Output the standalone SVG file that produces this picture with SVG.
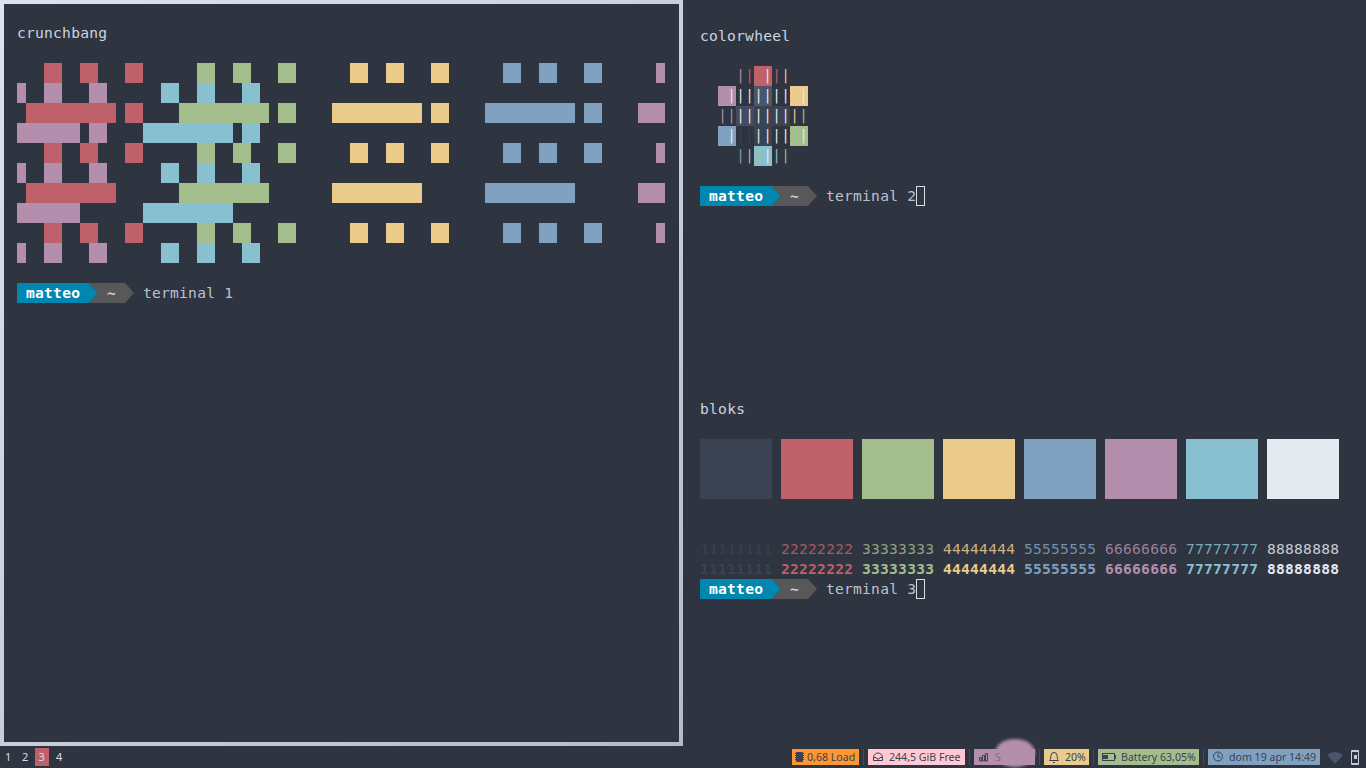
<svg xmlns="http://www.w3.org/2000/svg" width="1366" height="768" viewBox="0 0 1366 768">
<style>
text{white-space:pre}
.m{font-family:"DejaVu Sans Mono","Liberation Mono",monospace;font-size:14.6px;fill:#cfd5e0}
.bold{font-weight:700}
.s{font-family:"Noto Sans","Open Sans",sans-serif;font-size:10.6px;fill:#3b4252}
.w{font-family:"Noto Sans","Open Sans",sans-serif;font-size:11px;fill:#d8dee9}
.r{fill:#bf616a}.g{fill:#a3be8c}.y{fill:#ebcb8b}.b{fill:#81a1c1}.p{fill:#b48ead}.c{fill:#88c0d0}.e{fill:#e5e9f0}.k{fill:#3b4252}
.seg1{fill:#0087af}.seg2{fill:#585858}
.name{fill:#ffffff;font-weight:700}
.tilde{fill:#d0d0d0;font-weight:700}
.cur{fill:none;stroke:#d8dee9;stroke-width:1}
.sep{stroke:#434c5e;stroke-width:1}
.ico{fill:none;stroke:#3b4252;stroke-width:1}
.bar{font-family:"DejaVu Sans Mono",monospace;font-size:13.5px;text-anchor:middle}
</style>
<defs>
<linearGradient id="border" gradientUnits="userSpaceOnUse" x1="0" y1="0" x2="683" y2="746">
<stop offset="0" stop-color="#dde3ee"/><stop offset="1" stop-color="#b4bccb"/>
</linearGradient>
<filter id="blur" x="-20%" y="-20%" width="140%" height="140%"><feGaussianBlur stdDeviation="1.5"/></filter>
<g id="prompt">
<path class="seg1" d="M0 0H72L81 10L72 20H0Z"/>
<path class="seg2" d="M72 0H108L117 10L108 20H72L81 10Z"/>
<text class="m name" x="9" y="15" textLength="54">matteo</text>
<text class="m tilde" x="90" y="15">~</text>
</g>
</defs>
<rect width="1366" height="768" fill="#2e3440"/>

<g id="terminal-1">
<rect x="2" y="2" width="679" height="742" fill="#2e3440" stroke="url(#border)" stroke-width="4"/>
<text class="m" x="17" y="38" textLength="90">crunchbang</text>
<g id="crunchbang-blocks">
<path class="r" d="M44 63h18v20h-18zM80 63h18v20h-18zM125 63h18v20h-18zM26 103h90v20h-90zM125 103h18v20h-18zM44 143h18v20h-18zM80 143h18v20h-18zM125 143h18v20h-18zM26 183h90v20h-90zM44 223h18v20h-18zM80 223h18v20h-18zM125 223h18v20h-18z"/>
<path class="g" d="M197 63h18v20h-18zM233 63h18v20h-18zM278 63h18v20h-18zM179 103h90v20h-90zM278 103h18v20h-18zM197 143h18v20h-18zM233 143h18v20h-18zM278 143h18v20h-18zM179 183h90v20h-90zM197 223h18v20h-18zM233 223h18v20h-18zM278 223h18v20h-18z"/>
<path class="y" d="M350 63h18v20h-18zM386 63h18v20h-18zM431 63h18v20h-18zM332 103h90v20h-90zM431 103h18v20h-18zM350 143h18v20h-18zM386 143h18v20h-18zM431 143h18v20h-18zM332 183h90v20h-90zM350 223h18v20h-18zM386 223h18v20h-18zM431 223h18v20h-18z"/>
<path class="b" d="M503 63h18v20h-18zM539 63h18v20h-18zM584 63h18v20h-18zM485 103h90v20h-90zM584 103h18v20h-18zM503 143h18v20h-18zM539 143h18v20h-18zM584 143h18v20h-18zM485 183h90v20h-90zM503 223h18v20h-18zM539 223h18v20h-18zM584 223h18v20h-18z"/>
<path class="p" d="M656 63h9v20h-9zM638 103h27v20h-27zM656 143h9v20h-9zM638 183h27v20h-27zM656 223h9v20h-9zM17 83h9v20h-9zM44 83h18v20h-18zM89 83h18v20h-18zM17 123h63v20h-63zM89 123h18v20h-18zM17 163h9v20h-9zM44 163h18v20h-18zM89 163h18v20h-18zM17 203h63v20h-63zM17 243h9v20h-9zM44 243h18v20h-18zM89 243h18v20h-18z"/>
<path class="c" d="M161 83h18v20h-18zM197 83h18v20h-18zM242 83h18v20h-18zM143 123h90v20h-90zM242 123h18v20h-18zM161 163h18v20h-18zM197 163h18v20h-18zM242 163h18v20h-18zM143 203h90v20h-90zM161 243h18v20h-18zM197 243h18v20h-18zM242 243h18v20h-18z"/>
</g>
<use href="#prompt" x="17" y="283"/>
<text class="m" x="143" y="298" textLength="90" fill-opacity="0.9">terminal 1</text>
</g>

<g id="terminal-2">
<text class="m" x="700" y="41" textLength="90">colorwheel</text>
<g id="colorwheel">
<rect class="r" x="754" y="66" width="18" height="20"/>
<rect class="p" x="718" y="86" width="18" height="20"/>
<rect x="754" y="86" width="18" height="20" fill="#4c566a"/>
<rect class="y" x="790" y="86" width="18" height="20"/>
<rect x="736" y="106" width="18" height="20" fill="#434c5e"/>
<rect x="754" y="106" width="18" height="20" fill="#3b4252"/>
<rect x="772" y="106" width="18" height="20" fill="#3b4252"/>
<rect class="b" x="718" y="126" width="18" height="20"/>
<rect x="754" y="126" width="18" height="20" fill="#3b4252"/>
<rect class="g" x="790" y="126" width="18" height="20"/>
<rect class="c" x="754" y="146" width="18" height="20"/>
<text class="bar p" x="740.500" y="79.500">|</text>
<text class="bar r" x="749.500" y="79.500">|</text>
<text class="bar e" x="767.500" y="79.500">|</text>
<text class="bar r" x="776.500" y="79.500">|</text>
<text class="bar y" x="785.500" y="79.500">|</text>
<text class="bar e" x="731.500" y="99.500">|</text>
<text class="bar e" x="740.500" y="99.500">|</text>
<text class="bar e" x="749.500" y="99.500">|</text>
<text class="bar e" x="758.500" y="99.500">|</text>
<text class="bar e" x="767.500" y="99.500">|</text>
<text class="bar e" x="776.500" y="99.500">|</text>
<text class="bar e" x="785.500" y="99.500">|</text>
<text class="bar e" x="803.500" y="99.500">|</text>
<text class="bar p" x="722.500" y="119.500">|</text>
<text class="bar b" x="731.500" y="119.500">|</text>
<text class="bar e" x="740.500" y="119.500">|</text>
<text class="bar e" x="749.500" y="119.500">|</text>
<text class="bar e" x="758.500" y="119.500">|</text>
<text class="bar e" x="767.500" y="119.500">|</text>
<text class="bar e" x="776.500" y="119.500">|</text>
<text class="bar e" x="785.500" y="119.500">|</text>
<text class="bar y" x="794.500" y="119.500">|</text>
<text class="bar g" x="803.500" y="119.500">|</text>
<text class="bar e" x="731.500" y="139.500">|</text>
<text class="bar k" x="740.500" y="139.500">|</text>
<text class="bar k" x="749.500" y="139.500">|</text>
<text class="bar e" x="758.500" y="139.500">|</text>
<text class="bar e" x="767.500" y="139.500">|</text>
<text class="bar e" x="776.500" y="139.500">|</text>
<text class="bar e" x="785.500" y="139.500">|</text>
<text class="bar e" x="803.500" y="139.500">|</text>
<text class="bar b" x="740.500" y="159.500">|</text>
<text class="bar c" x="749.500" y="159.500">|</text>
<text class="bar g" x="758.500" y="159.500">|</text>
<text class="bar e" x="767.500" y="159.500">|</text>
<text class="bar c" x="776.500" y="159.500">|</text>
<text class="bar g" x="785.500" y="159.500">|</text>
</g>
<use href="#prompt" x="700" y="186"/>
<text class="m" x="826" y="201" textLength="90" fill-opacity="0.9">terminal 2</text>
<rect class="cur" x="916.500" y="186.500" width="8" height="19"/>
</g>

<g id="terminal-3">
<text class="m" x="700" y="414" textLength="45">bloks</text>
<g id="bloks">
<rect class="k" x="700" y="439" width="72" height="60"/>
<rect class="r" x="781" y="439" width="72" height="60"/>
<rect class="g" x="862" y="439" width="72" height="60"/>
<rect class="y" x="943" y="439" width="72" height="60"/>
<rect class="b" x="1024" y="439" width="72" height="60"/>
<rect class="p" x="1105" y="439" width="72" height="60"/>
<rect class="c" x="1186" y="439" width="72" height="60"/>
<rect class="e" x="1267" y="439" width="72" height="60"/>
</g>
<g id="digits">
<g fill-opacity="0.85">
<text class="m" style="fill:#3b4252" x="700" y="554" textLength="72">11111111</text>
<text class="m" style="fill:#bf616a" x="781" y="554" textLength="72">22222222</text>
<text class="m" style="fill:#a3be8c" x="862" y="554" textLength="72">33333333</text>
<text class="m" style="fill:#ebcb8b" x="943" y="554" textLength="72">44444444</text>
<text class="m" style="fill:#81a1c1" x="1024" y="554" textLength="72">55555555</text>
<text class="m" style="fill:#b48ead" x="1105" y="554" textLength="72">66666666</text>
<text class="m" style="fill:#88c0d0" x="1186" y="554" textLength="72">77777777</text>
<text class="m" style="fill:#e5e9f0" x="1267" y="554" textLength="72">88888888</text>
</g>
<text class="m bold" style="fill:#3b4252" x="700" y="574" textLength="72">11111111</text>
<text class="m bold" style="fill:#bf616a" x="781" y="574" textLength="72">22222222</text>
<text class="m bold" style="fill:#a3be8c" x="862" y="574" textLength="72">33333333</text>
<text class="m bold" style="fill:#ebcb8b" x="943" y="574" textLength="72">44444444</text>
<text class="m bold" style="fill:#81a1c1" x="1024" y="574" textLength="72">55555555</text>
<text class="m bold" style="fill:#b48ead" x="1105" y="574" textLength="72">66666666</text>
<text class="m bold" style="fill:#88c0d0" x="1186" y="574" textLength="72">77777777</text>
<text class="m bold" style="fill:#e5e9f0" x="1267" y="574" textLength="72">88888888</text>
</g>
<use href="#prompt" x="700" y="579"/>
<text class="m" x="826" y="594" textLength="90" fill-opacity="0.9">terminal 3</text>
<rect class="cur" x="916.500" y="579.500" width="8" height="19"/>
</g>

<g id="workspaces">
<rect class="r" x="35" y="748" width="14" height="18"/>
<text class="w" x="5" y="761">1</text>
<text class="w" x="22" y="761">2</text>
<text class="w" x="38.500" y="761">3</text>
<text class="w" x="56" y="761">4</text>
</g>

<g id="status-bar">
<g id="load">
<rect x="792" y="749" width="67" height="16" fill="#fd9633"/>
<rect x="796" y="752" width="7" height="10" rx="1" fill="#3b4252"/>
<path d="M795 753.500h9M795 755.500h9M795 757.500h9M795 759.500h9" stroke="#3b4252" stroke-width="1"/>
<text class="s" x="807" y="761">0,68 Load</text>
</g>
<line class="sep" x1="863.500" y1="749" x2="863.500" y2="765"/>
<g id="disk">
<rect x="868" y="749" width="97" height="16" fill="#ffc8d2"/>
<path class="ico" d="M873.500 757.500a4.500 4.500 0 0 1 9 0v3h-9zM873.500 757.500h2.500l1 1.500h2l1-1.500h2.500"/>
<text class="s" x="889" y="761">244,5 GiB Free</text>
</g>
<line class="sep" x1="969.500" y1="749" x2="969.500" y2="765"/>
<g id="memory">
<rect class="p" x="974" y="749" width="61" height="16"/>
<ellipse class="p" cx="1015" cy="753" rx="20" ry="14" filter="url(#blur)"/>
<path class="ico" d="M979.500 757.500h2v3.500h-2zM982.500 755.500h2v5.500h-2zM985.500 753.500h2v7.500h-2z"/>
<text class="s" x="995" y="761" fill-opacity="0.45">S</text>
</g>
<line class="sep" x1="1039.500" y1="749" x2="1039.500" y2="765"/>
<g id="volume">
<rect class="y" x="1044" y="749" width="45" height="16"/>
<path class="ico" d="M1049.500 760.500c1.500-1 1-3 1.500-5a3 3 0 0 1 6 0c.5 2 0 4 1.500 5zM1053 762.500h2"/>
<text class="s" x="1065" y="761">20%</text>
</g>
<line class="sep" x1="1093.500" y1="749" x2="1093.500" y2="765"/>
<g id="battery">
<rect class="g" x="1098" y="749" width="101" height="16"/>
<rect class="ico" x="1102.500" y="753.500" width="12" height="7"/>
<rect x="1103" y="755" width="5" height="4" fill="#3b4252"/>
<rect x="1115" y="755" width="1" height="4" fill="#3b4252"/>
<text class="s" x="1121" y="761">Battery 63,05%</text>
</g>
<line class="sep" x1="1203.500" y1="749" x2="1203.500" y2="765"/>
<g id="clock">
<rect class="b" x="1208" y="749" width="112" height="16"/>
<circle class="ico" cx="1218" cy="756.500" r="4.500"/>
<path class="ico" d="M1218 753.500v3.500h2.500"/>
<text class="s" x="1229" y="761">dom 19 apr 14:49</text>
</g>
<path id="wifi" d="M1327 755Q1335 749 1343 755L1335 764Z" fill="#4c566a"/>
<g id="phone">
<rect x="1351" y="750" width="8" height="15" rx="1" fill="#c5cbd6"/>
<rect x="1352" y="752" width="6" height="11" fill="#2e3440"/>
<rect x="1354" y="755" width="3" height="4" fill="#c5cbd6"/>
</g>
</g>
</svg>
